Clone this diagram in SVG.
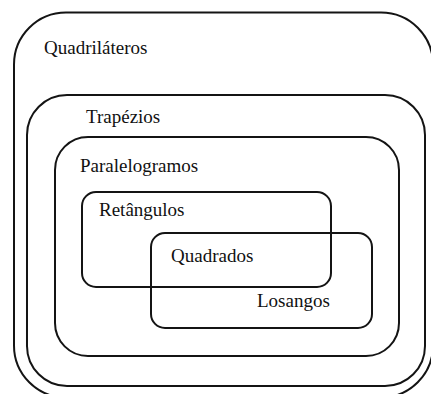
<svg xmlns="http://www.w3.org/2000/svg" width="431" height="394" viewBox="0 0 431 394">
  <style>
    .box { fill: none; stroke: #141414; stroke-width: 2; }
    text { font-family: 'Liberation Serif', 'DejaVu Serif', 'Times New Roman', serif; font-size: 19px; fill: #111; }
  </style>
  <rect x="0" y="0" width="431" height="394" fill="#ffffff"/>
  <g id="quadrilateros">
    <rect class="box" x="14" y="12.5" width="419" height="385" rx="52" ry="52"/>
    <text x="44" y="54" font-family="Liberation Serif, DejaVu Serif, serif">Quadriláteros</text>
  </g>
  <g id="trapezios">
    <rect class="box" x="27" y="95" width="398" height="291" rx="40" ry="40"/>
    <text x="86" y="123" font-family="Liberation Serif, DejaVu Serif, serif">Trapézios</text>
  </g>
  <g id="paralelogramos">
    <rect class="box" x="55" y="137" width="344" height="219" rx="33" ry="33"/>
    <text x="80" y="172" font-family="Liberation Serif, DejaVu Serif, serif">Paralelogramos</text>
  </g>
  <g id="retangulos">
    <rect class="box" x="82" y="192" width="249" height="95" rx="14" ry="14"/>
    <text x="99" y="216" font-family="Liberation Serif, DejaVu Serif, serif">Retângulos</text>
  </g>
  <g id="losangos">
    <rect class="box" x="151" y="233" width="221" height="95" rx="14" ry="14"/>
    <text x="257" y="307" font-family="Liberation Serif, DejaVu Serif, serif">Losangos</text>
  </g>
  <g id="quadrados">
    <text x="171" y="262" font-family="Liberation Serif, DejaVu Serif, serif">Quadrados</text>
  </g>
  <g id="connectors"/>
</svg>
